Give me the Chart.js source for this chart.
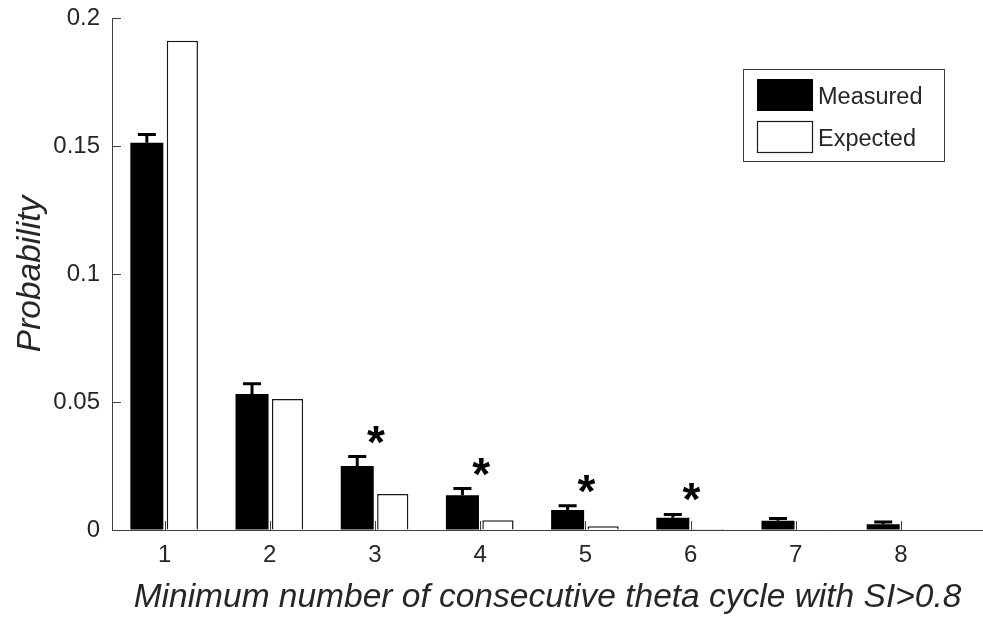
<!DOCTYPE html>
<html>
<head>
<meta charset="utf-8">
<script src="https://cdn.jsdelivr.net/npm/chart.js@4.4.1/dist/chart.umd.min.js"></script>
<style>
  html, body { margin: 0; padding: 0; background: #ffffff; }
  #wrap { width: 983px; height: 617px; }
</style>
</head>
<body>
<div id="wrap"><canvas id="chart" width="983" height="617"></canvas></div>
<script>
// Run length of consecutive theta cycles above the SI threshold
const categories = [1, 2, 3, 4, 5, 6, 7, 8];
const measured = [0.1513, 0.0531, 0.0250, 0.0136, 0.0078, 0.0048, 0.0036, 0.0022];
const measuredErr = [0.0032, 0.0040, 0.0037, 0.0026, 0.0017, 0.0013, 0.0009, 0.0009];
const expected = [0.1911, 0.0512, 0.0141, 0.0038, 0.0015, 0.0004, 0.0003, 0.0002];
const significant = [false, false, true, true, true, true, false, false];
const yTicks = [0, 0.05, 0.1, 0.15, 0.2];
const yTickLabels = ['0', '0.05', '0.1', '0.15', '0.2'];
const seriesNames = ['Measured', 'Expected'];
const xTitle = 'Minimum number of consecutive theta cycle with SI>0.8';
const yTitle = 'Probability';

const FONT = '"Liberation Sans", Arial, Helvetica, sans-serif';
const AXIS = '#404040';
const TEXT = '#262626';

// Inward tick marks on both axes (drawn under the bars)
const innerTicks = {
  id: 'innerTicks',
  beforeDatasetsDraw(chart) {
    const { ctx, chartArea: a, scales: { x, y } } = chart;
    ctx.save();
    ctx.strokeStyle = AXIS;
    ctx.lineWidth = 1;
    ctx.beginPath();
    yTicks.forEach(v => {
      const py = Math.round(y.getPixelForValue(v)) + 0.5;
      ctx.moveTo(a.left, py);
      ctx.lineTo(a.left + 9, py);
    });
    categories.forEach(c => {
      const px = Math.round(x.getPixelForValue(c)) + 0.5;
      ctx.moveTo(px, a.bottom);
      ctx.lineTo(px, a.bottom - 9);
    });
    ctx.stroke();
    ctx.restore();
  }
};

// Upper error bars on the measured series and significance stars
const errorBars = {
  id: 'errorBars',
  afterDatasetsDraw(chart) {
    const { ctx, scales: { y } } = chart;
    const meta = chart.getDatasetMeta(0);
    ctx.save();
    ctx.strokeStyle = '#000';
    ctx.lineWidth = 3;
    meta.data.forEach((bar, i) => {
      const top = y.getPixelForValue(measured[i] + measuredErr[i]);
      ctx.beginPath();
      ctx.moveTo(bar.x, bar.y);
      ctx.lineTo(bar.x, top);
      ctx.moveTo(bar.x - 9, top);
      ctx.lineTo(bar.x + 9, top);
      ctx.stroke();
    });
    // stars centred over each category pair
    const x = chart.scales.x;
    ctx.fillStyle = '#000';
    ctx.font = 'bold 46px ' + FONT;
    ctx.textAlign = 'center';
    ctx.textBaseline = 'alphabetic';
    const m = ctx.measureText('*');
    const half = (m.actualBoundingBoxAscent - m.actualBoundingBoxDescent) / 2;
    categories.forEach((c, i) => {
      if (!significant[i]) return;
      const cy = y.getPixelForValue(measured[i] + measuredErr[i]) - 22;
      ctx.fillText('*', x.getPixelForValue(c) + 1, cy + half);
    });
    ctx.restore();
  }
};

// Axis titles and boxed legend
const annotations = {
  id: 'annotations',
  afterDraw(chart) {
    const { ctx, chartArea: a } = chart;
    ctx.save();
    ctx.fillStyle = TEXT;
    ctx.font = 'italic 33.5px ' + FONT;
    ctx.textAlign = 'center';
    ctx.textBaseline = 'alphabetic';
    ctx.fillText(xTitle, (a.left + a.right) / 2, 607);
    ctx.save();
    ctx.translate(40, (a.top + a.bottom) / 2);
    ctx.rotate(-Math.PI / 2);
    ctx.fillText(yTitle, 0, 0);
    ctx.restore();

    // legend
    const lx = 743.5, ly = 69.5, lw = 201, lh = 92;
    ctx.fillStyle = '#fff';
    ctx.fillRect(lx, ly, lw, lh);
    ctx.strokeStyle = '#3a3a3a';
    ctx.lineWidth = 1;
    ctx.strokeRect(lx, ly, lw, lh);
    const ds = chart.data.datasets;
    const rows = [79, 121];
    ds.forEach((d, i) => {
      const sy = rows[i];
      ctx.fillStyle = d.backgroundColor;
      ctx.fillRect(757, sy, 56, 32);
      if (d.borderWidth) {
        ctx.strokeStyle = d.borderColor;
        ctx.lineWidth = 1.2;
        ctx.strokeRect(757.5, sy + 0.5, 55, 31);
      }
      ctx.fillStyle = TEXT;
      ctx.font = '23.5px ' + FONT;
      ctx.textAlign = 'left';
      ctx.textBaseline = 'middle';
      ctx.fillText(d.label, 818, sy + 19);
    });
    ctx.restore();
  }
};

const points = vals => categories.map((c, i) => ({ x: c, y: vals[i] }));

new Chart(document.getElementById('chart'), {
  type: 'bar',
  data: {
    datasets: [
      {
        label: seriesNames[0],
        data: points(measured),
        backgroundColor: '#000000',
        borderWidth: 0,
        categoryPercentage: 0.675,
        barPercentage: 0.93
      },
      {
        label: seriesNames[1],
        data: points(expected),
        backgroundColor: '#ffffff',
        borderColor: '#1a1a1a',
        borderWidth: 1.5,
        categoryPercentage: 0.675,
        barPercentage: 0.88
      }
    ]
  },
  options: {
    responsive: false,
    animation: false,
    events: [],
    layout: { padding: { top: 18, right: 0, bottom: 0, left: 0 } },
    plugins: { legend: { display: false }, tooltip: { enabled: false } },
    scales: {
      x: {
        type: 'linear',
        min: 0.5,
        max: 8.78,
        offset: false,
        afterBuildTicks: s => { s.ticks = categories.map(v => ({ value: v })); },
        afterFit: s => { s.height = 87; s.paddingLeft = 0; s.paddingRight = 0; },
        grid: { drawOnChartArea: false, drawTicks: false, color: 'rgba(0,0,0,0)' },
        border: { display: true, color: AXIS, width: 1 },
        ticks: {
          color: TEXT,
          font: { family: FONT, size: 24 },
          padding: 11,
          maxRotation: 0,
          autoSkip: false,
          callback: v => String(v)
        }
      },
      y: {
        min: 0,
        max: 0.2,
        afterBuildTicks: s => { s.ticks = yTicks.map(v => ({ value: v })); },
        afterFit: s => { s.width = 112; s.paddingTop = 0; s.paddingBottom = 0; },
        grid: { drawOnChartArea: false, drawTicks: false, color: 'rgba(0,0,0,0)' },
        border: { display: true, color: AXIS, width: 1 },
        ticks: {
          color: TEXT,
          font: { family: FONT, size: 24 },
          padding: 12,
          callback: (v) => {
            const k = yTicks.findIndex(t => Math.abs(t - v) < 1e-9);
            return k >= 0 ? yTickLabels[k] : '';
          }
        }
      }
    }
  },
  plugins: [innerTicks, errorBars, annotations]
});
</script>
</body>
</html>
